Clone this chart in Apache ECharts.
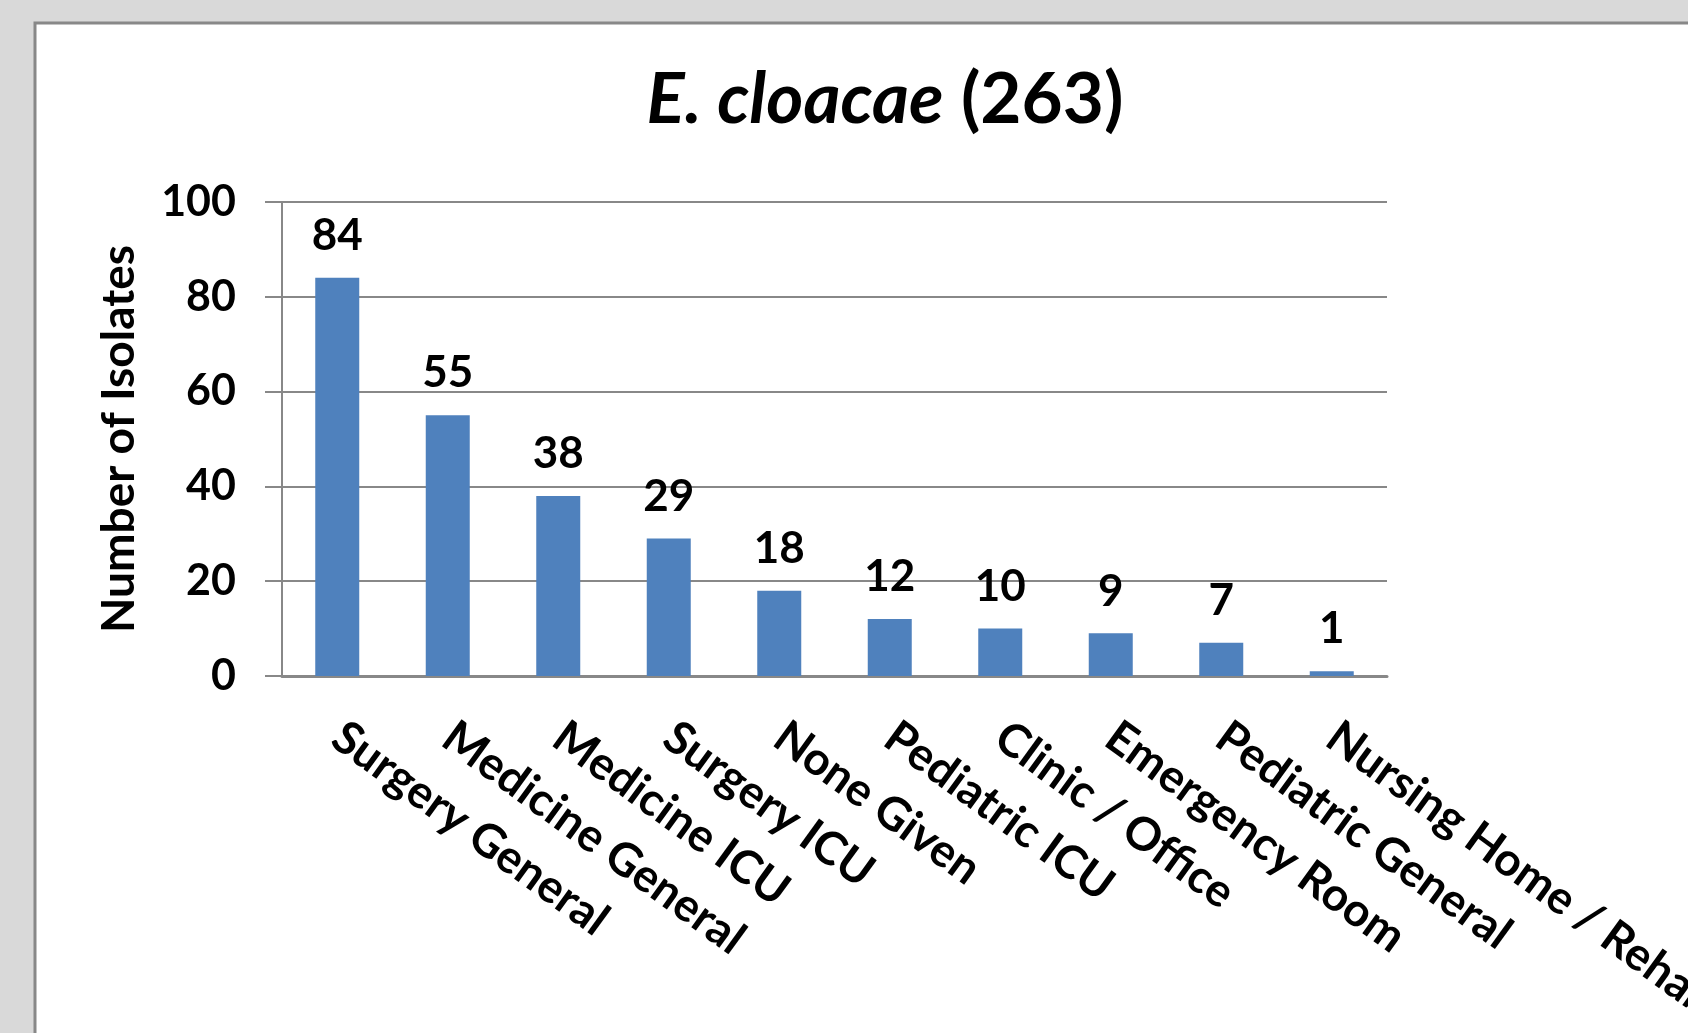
<!DOCTYPE html>
<html>
<head>
<meta charset="utf-8">
<script src="https://cdn.jsdelivr.net/npm/echarts@6/dist/echarts.min.js"></script>
<style>
  html, body { margin: 0; padding: 0; background: #d9d9d9; }
  #chart { width: 1688px; height: 1033px; }
</style>
</head>
<body>
<div id="chart"></div>
<script>
  const categories = ['Surgery General', 'Medicine General', 'Medicine ICU', 'Surgery ICU', 'None Given',
    'Pediatric ICU', 'Clinic / Office', 'Emergency Room', 'Pediatric General', 'Nursing Home / Rehab'];
  const isolates = [84, 55, 38, 29, 18, 12, 10, 9, 7, 1];
  const yTicks = { min: 0, max: 100, interval: 20 };

  const font = 'Lato, "Open Sans", sans-serif';
  const myChart = echarts.init(document.getElementById('chart'));

  const options = {
    backgroundColor: '#d9d9d9',
    animation: false,
    graphic: [
      {
        type: 'rect',
        z: -10,
        shape: { x: 35, y: 23, width: 1700, height: 1100 },
        style: { fill: '#fff', stroke: '#888', lineWidth: 3 },
      },
    ],
    title: {
      text: '{i|E. cloacae}{n| (263)}',
      left: 880,
      top: 60,
      textAlign: 'center',
      textStyle: {
        rich: {
          i: { fontFamily: font, fontSize: 71, fontWeight: 'bold', fontStyle: 'italic', color: '#000' },
          n: { fontFamily: font, fontSize: 71, fontWeight: 'bold', color: '#000' },
        },
      },
    },
    grid: { left: 282, right: 301, top: 202, bottom: 357, outerBoundsMode: 'none', containLabel: false },
    xAxis: {
      type: 'category',
      data: categories,
      axisLine: { lineStyle: { color: '#888', width: 3 } },
      axisTick: { length: 16, lineStyle: { color: '#888', width: 2 } },
      axisLabel: {
        interval: 0,
        rotate: -36,
        margin: 56,
        fontFamily: font,
        fontSize: 46,
        fontWeight: 'bold',
        color: '#000',
      },
    },
    yAxis: {
      type: 'value',
      min: yTicks.min,
      max: yTicks.max,
      interval: yTicks.interval,
      name: 'Number of Isolates',
      nameLocation: 'middle',
      nameGap: 140,
      nameTextStyle: { fontFamily: font, fontSize: 46, fontWeight: 'bold', color: '#000' },
      axisLine: { show: true, lineStyle: { color: '#888', width: 2 } },
      axisTick: { show: true, length: 17, lineStyle: { color: '#888', width: 2 } },
      axisLabel: { margin: 46, fontFamily: font, fontSize: 43, fontWeight: 'bold', color: '#000' },
      splitLine: { lineStyle: { color: '#888', width: 2 } },
    },
    series: [
      {
        type: 'bar',
        data: isolates,
        barWidth: 44,
        itemStyle: { color: '#4f81bd' },
        label: {
          show: true,
          position: 'top',
          distance: 20,
          fontFamily: font,
          fontSize: 44,
          fontWeight: 'bold',
          color: '#000',
        },
      },
    ],
  };
  myChart.setOption(options);
</script>
</body>
</html>
